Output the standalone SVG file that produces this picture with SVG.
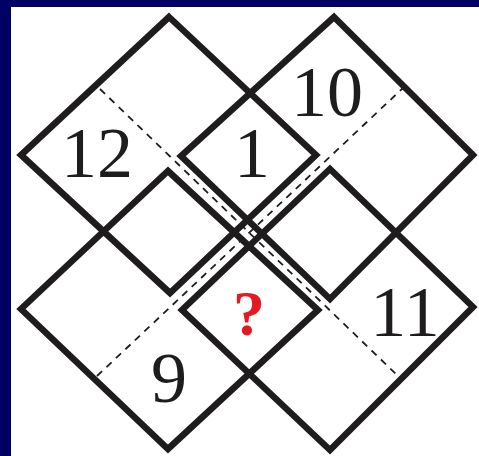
<svg xmlns="http://www.w3.org/2000/svg" width="479" height="456" viewBox="0 0 479 456">
  <style>
    .sq { fill: none; stroke: #1f1c1d; stroke-width: 6.5; stroke-linejoin: miter; stroke-miterlimit: 10; }
    .dash { fill: none; stroke: #1f1c1d; stroke-width: 1.8; stroke-dasharray: 7 6; }
    .num { font-family: "Liberation Serif", "Times New Roman", serif; font-size: 72px; fill: #1f1c1d; text-anchor: middle; }
    .q { font-family: "Liberation Serif", "Times New Roman", serif; font-size: 64px; font-weight: bold; fill: #e41a22; text-anchor: middle; }
  </style>
  <rect x="0" y="0" width="479" height="456" fill="#000064"/>
  <rect x="11" y="7" width="468" height="449" fill="#ffffff"/>
  <g id="diagonals">
    <line class="dash" x1="100" y1="89" x2="397" y2="375"/>
    <line class="dash" x1="97" y1="376" x2="403" y2="88"/>
  </g>
  <g id="square-top-left">
    <polygon class="sq" points="169,17 316,155 170,293 21,155"/>
    <text class="num" x="97" y="177">12</text>
  </g>
  <g id="square-top-right">
    <polygon class="sq" points="334,17 473,155 330,299 181,156"/>
    <text class="num" x="327" y="116">10</text>
  </g>
  <g id="square-bottom-left">
    <polygon class="sq" points="168,171 318,310 168,449 21,309"/>
    <text class="num" x="169" y="402">9</text>
  </g>
  <g id="square-bottom-right">
    <polygon class="sq" points="330,169 473,307 330,450 182,310"/>
    <text class="num" x="405" y="336">11</text>
  </g>
  <g id="overlap-top">
    <text class="num" x="252" y="177">1</text>
  </g>
  <g id="overlap-bottom">
    <text class="q" x="249" y="335">?</text>
  </g>
</svg>
